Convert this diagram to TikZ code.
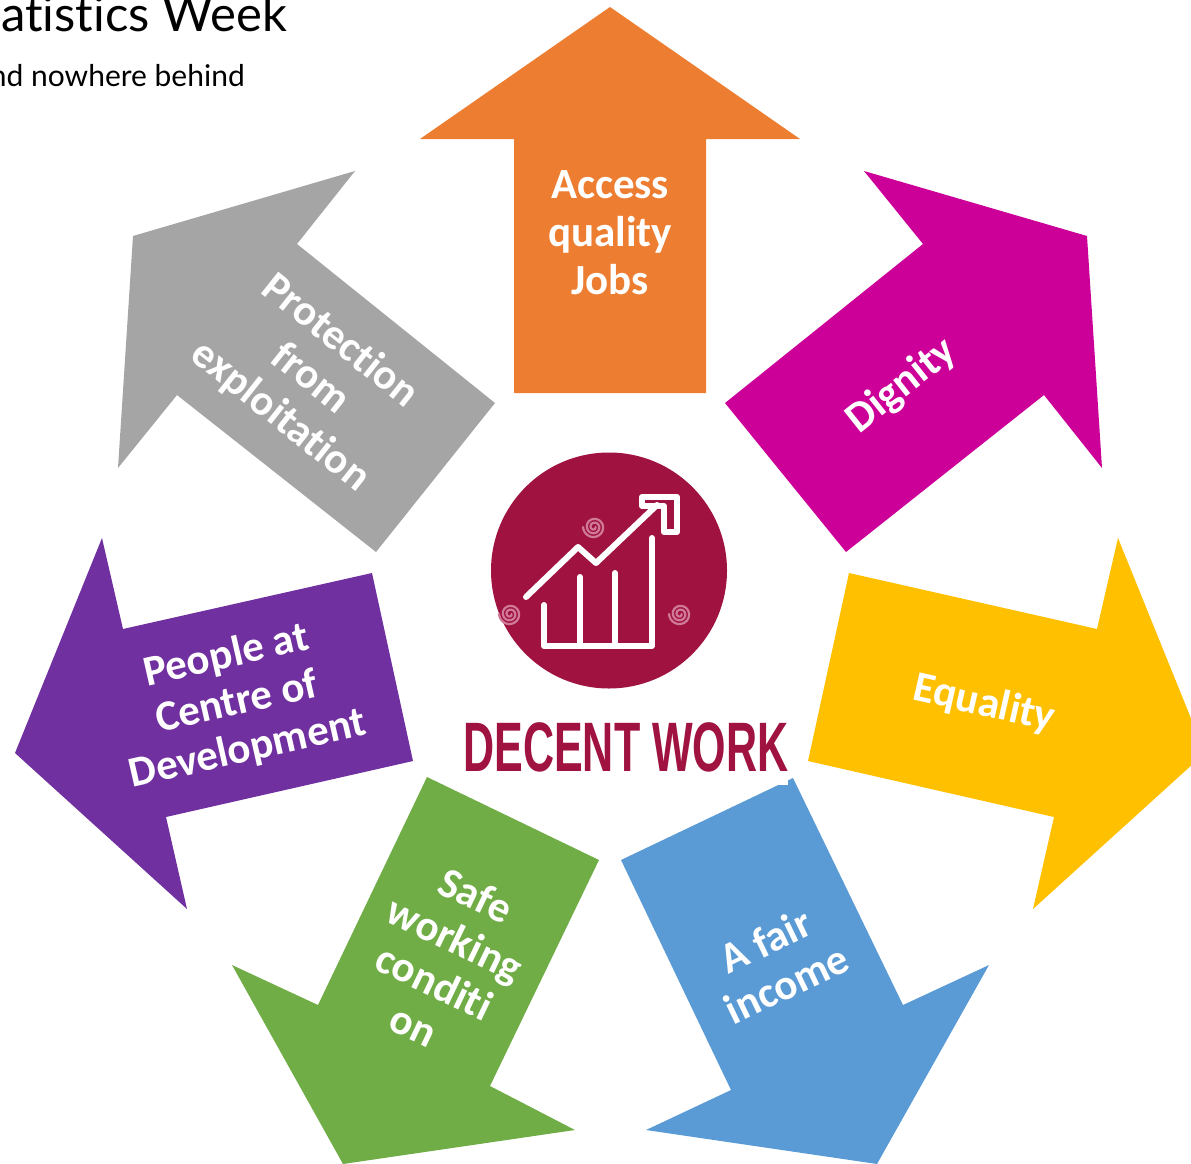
\documentclass[tikz,border=0pt]{standalone}
\usepackage{fontspec}
\setmainfont[Ligatures=NoCommon]{Carlito}
\newfontfamily\headfont[Ligatures=NoCommon]{Lato}
\newfontfamily\logofont{Liberation Sans}
\definecolor{cOrange}{HTML}{ED7D31}
\definecolor{cMagenta}{HTML}{CC0099}
\definecolor{cGray}{HTML}{A5A5A5}
\definecolor{cYellow}{HTML}{FFC000}
\definecolor{cPurple}{HTML}{7030A0}
\definecolor{cGreen}{HTML}{70AD47}
\definecolor{cBlue}{HTML}{5B9BD5}
\definecolor{cLogo}{HTML}{A01240}
\definecolor{cSpiral}{HTML}{D07A98}
\tikzset{
  lbl/.style={text=white,align=center,inner sep=0pt,font=\bfseries\fontsize{43}{48}\selectfont},
  glyph/.style={draw=white,line width=6pt,line join=round,line cap=round},
  spiral/.style={draw=cSpiral,line width=2.2pt,line cap=round},
}
\begin{document}
\begin{tikzpicture}[x=1pt,y=-1pt]
\useasboundingbox (0,0) rectangle (1191,1164);
\clip (0,0) rectangle (1191,1164);
% arrows
\fill[cOrange] (610,7)--(800,139)--(706,139)--(706,393)--(514,393)--(514,139)--(420,139)--cycle;
\fill[cMagenta] (864,171)--(1087,236)--(1102,468)--(1044,395)--(846,552)--(725,403)--(923,244)--cycle;
\fill[cGray] (355,171)--(133,236)--(118,468)--(177,395)--(376,552)--(495,403)--(297,244)--cycle;
\fill[cYellow] (849,573)--(1097,629)--(1118,538)--(1205,753)--(1033,909)--(1054,817)--(808,761)--cycle;
\fill[cPurple] (372,573)--(123,629)--(102,538)--(15,753)--(187,909)--(166,817)--(413,761)--cycle;
\fill[cGreen] (427,777)--(599,860)--(490,1086)--(575,1130)--(343,1164)--(232,965)--(318,1005)--cycle;
\fill[cBlue] (793,778)--(903,1005)--(989,965)--(877,1164)--(646,1130)--(731,1090)--(621,860)--cycle;
% logo
\fill[white] (456,712) rectangle (788,785);
\fill[cLogo] (609,570.5) circle[radius=118];
\draw[glyph] (526,597)--(578,547)--(596,563)--(657,505);
\draw[glyph] (642,497)--(677,497)--(677,532)--(664,532)--(664,506)--(642,506)--cycle;
\draw[glyph] (544,605)--(544,646)--(652,646)--(652,538);
\draw[glyph] (580,577)--(580,646);
\draw[glyph] (615,573)--(615,646);
\foreach \cx/\cy in {594/527,510/614,680/614}{
  \draw[spiral,shift={(\cx,\cy)}] plot[domain=0:900,samples=60,smooth] ({(1.5+\x/95)*cos(\x)},{(1.5+\x/95)*sin(\x)});
}
\node[anchor=base,inner sep=0pt,text=cLogo] (logotext) at (626,771)
  {\logofont\bfseries\fontsize{70}{70}\selectfont\scalebox{0.615}[1]{DECENT WORK}};
% labels
\node[lbl] (l1) at (610,233) {Access\\quality\\Jobs};
\node[lbl,rotate=38.5] (l2) at (902,386) {Dignity};
\node[lbl,rotate=-12.8] (l3) at (984,704) {Equality};
\node[lbl,rotate=25.7] (l4) at (776,962) {A fair\\income};
\node[lbl,rotate=-25.7] (l5) at (445,960) {Safe\\working\\conditi\\on};
\node[lbl,rotate=12.8] (l6) at (237,703) {People at\\Centre of\\Development};
\node[lbl,rotate=-38.5] (l7) at (310,379) {Protection\\from\\exploitation};
% header
\node[anchor=base east,inner sep=0pt,text=black] (h1) at (287,32) {\headfont\fontsize{49}{49}\selectfont atistics Week};
\node[anchor=base east,inner sep=0pt,text=black] (h2) at (245,86) {\headfont\fontsize{30}{30}\selectfont nd nowhere behind};
\end{tikzpicture}
\end{document}
